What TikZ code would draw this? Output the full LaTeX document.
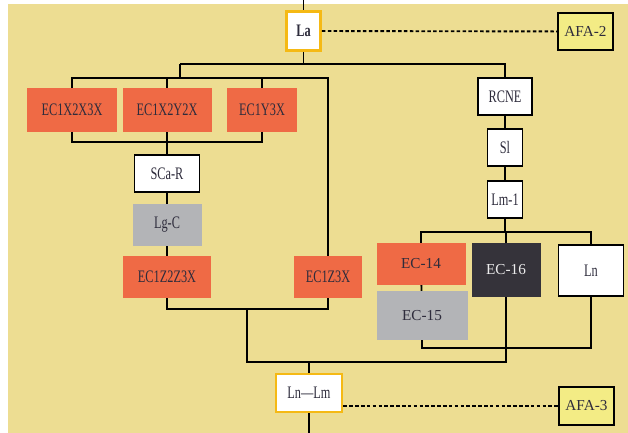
\documentclass[tikz,border=0pt]{standalone}
\usepackage{fontspec}
\usepackage{xcolor}
\setmainfont{Liberation Serif}
\newfontfamily\condfont[FakeStretch=0.7]{Liberation Serif}
\definecolor{FlowBack}{HTML}{EDDD92}
\definecolor{FlowOrange}{HTML}{EF6A45}
\definecolor{FlowGray}{HTML}{B3B4B7}
\definecolor{FlowDark}{HTML}{35333A}
\definecolor{FlowGold}{HTML}{F5B914}
\definecolor{FlowNote}{HTML}{F3EC85}
\definecolor{FlowText}{HTML}{2E2C3C}

\begin{document}
\begin{tikzpicture}[x=0.03cm,y=-0.03cm,
  conn/.style={line width=1.6pt,black},
  link/.style={line width=1.6pt,black,dash pattern=on 3pt off 2pt},
  boxsize/.style 2 args={minimum width=#1*0.03cm,minimum height=#2*0.03cm},
  box/.style={inner sep=0pt,align=center,text=FlowText,font=\condfont\fontsize{15}{17}\selectfont},
  plainfont/.style={font=\fontsize{13}{15}\selectfont},
  orangebox/.style={box,fill=FlowOrange},
  graybox/.style={box,fill=FlowGray},
  darkbox/.style={box,fill=FlowDark,text=white!85!gray},
  whitebox/.style={box,fill=white,draw=black,line width=1.6pt},
  goldbox/.style={box,fill=white,draw=FlowGold,line width=2.4pt},
  notebox/.style={box,plainfont,fill=FlowNote,draw=black,line width=1.6pt}]
\path[use as bounding box] (0,0) rectangle (628,433);
\fill[white] (0,0) rectangle (628,433);
\fill[FlowBack] (8,4) rectangle (628,433);

% top of the chart
\node[goldbox,boxsize={34}{39},font=\condfont\bfseries\fontsize{15}{17}\selectfont] (la) at (303.5,31) {La};
\node[notebox,boxsize={55}{37}] (afa2) at (585.5,31.5) {AFA-2};

% left branch
\node[orangebox,boxsize={90}{44}] (ecA) at (72,110) {EC1X2X3X};
\node[orangebox,boxsize={89}{44}] (ecB) at (167,110) {EC1X2Y2X};
\node[orangebox,boxsize={70}{44}] (ecC) at (262,110) {EC1Y3X};
\node[whitebox,boxsize={65}{37}] (scar) at (167,173.5) {SCa-R};
\node[graybox,boxsize={69}{42}] (lgc) at (167,225) {Lg-C};
\node[orangebox,boxsize={88}{42}] (ecD) at (167,277) {EC1Z2Z3X};
\node[orangebox,boxsize={68}{42}] (ecE) at (328,277) {EC1Z3X};

% right branch
\node[whitebox,boxsize={54}{37}] (rcne) at (505,96.5) {RCNE};
\node[whitebox,boxsize={35}{37}] (sl) at (505,147.5) {Sl};
\node[whitebox,boxsize={35}{37}] (lmone) at (505,199.5) {Lm-1};
\node[orangebox,plainfont,boxsize={89}{42}] (ecF) at (421,264) {EC-14};
\node[graybox,plainfont,boxsize={91}{49}] (ecG) at (422,315.5) {EC-15};
\node[darkbox,plainfont,boxsize={69}{54}] (ecH) at (506,270) {EC-16};
\node[whitebox,boxsize={65}{51}] (ln) at (591,270.5) {Ln};

% bottom of the chart
\node[goldbox,boxsize={66}{38}] (lnlm) at (309,393) {Ln—Lm};
\node[notebox,boxsize={55}{38}] (afa3) at (586.5,406) {AFA-3};

\coordinate (top) at (303.5,0);
\coordinate (bot) at (309,433);
\coordinate (barA) at (180,64);
\coordinate (barB) at (180,78);
\coordinate (barC) at (0,142);
\coordinate (barD) at (247,309);
\coordinate (barE) at (247,362);
\coordinate (barF) at (0,232);
\coordinate (barG) at (0,348);

\draw[conn] (top) -- (la);
\draw[conn] (la) -- (la |- barA);
\draw[conn] (barA) -- (rcne |- barA) -- (rcne);
\draw[conn] (barA) -- (barB);
\draw[conn] (ecA) -- (ecA |- barB) -- (ecE |- barB) -- (ecE);
\draw[conn] (ecB) -- (ecB |- barB);
\draw[conn] (ecC) -- (ecC |- barB);
\draw[conn] (ecA) -- (ecA |- barC) -- (ecC |- barC) -- (ecC);
\draw[conn] (ecB) -- (scar);
\draw[conn] (scar) -- (lgc);
\draw[conn] (lgc) -- (ecD);
\draw[conn] (ecD) -- (ecD |- barD) -- (ecE |- barD) -- (ecE);
\draw[conn] (barD) -- (barE) -- (ecH |- barE) -- (ecH);
\draw[conn] (lnlm) -- (lnlm |- barE);
\draw[conn] (lnlm) -- (bot);

\draw[conn] (rcne) -- (sl);
\draw[conn] (sl) -- (lmone);
\draw[conn] (lmone) -- (lmone |- barF);
\draw[conn] (ecF) -- (ecF |- barF) -- (ln |- barF) -- (ln);
\draw[conn] (ecH) -- (ecH |- barF);
\draw[conn] (ecF) -- (ecG);
\draw[conn] (ecG) -- (ecG |- barG) -- (ln |- barG) -- (ln);

% dotted links to the notes
\draw[link] (la) -- (afa2);
\draw[link] (lnlm.east |- afa3) -- (afa3);
\end{tikzpicture}
\end{document}
